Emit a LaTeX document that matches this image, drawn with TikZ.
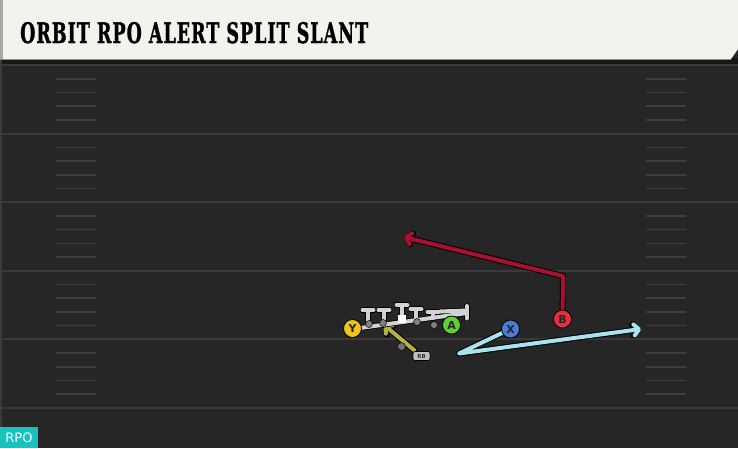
\documentclass[tikz,border=0pt]{standalone}
\usepackage{fontspec}
\usepackage{graphicx}
\usetikzlibrary{arrows.meta}
\setmainfont{DejaVu Sans}
\newfontfamily\titlefont{DejaVu Serif}[BoldFeatures={FakeBold=1.6,LetterSpace=6}]
\definecolor{field}{HTML}{262626}
\definecolor{band}{HTML}{161616}
\definecolor{yard}{HTML}{3A3A3A}
\definecolor{hashc}{HTML}{3E3E3E}
\definecolor{cream}{HTML}{F4F2EC}
\definecolor{ycol}{HTML}{F2C21B}
\definecolor{acol}{HTML}{62CF33}
\definecolor{xcol}{HTML}{4A7DD6}
\definecolor{bcol}{HTML}{E0303E}
\definecolor{redroute}{HTML}{A8102E}
\definecolor{blueroute}{HTML}{A8E3EF}
\definecolor{oliveroute}{HTML}{B7B23A}
\definecolor{linec}{HTML}{D2D2D2}
\definecolor{rpoteal}{HTML}{17C3BE}
\pgfdeclarelayer{back}
\pgfdeclarelayer{mid}
\pgfsetlayers{back,mid,main}
\tikzset{
  player/.style={circle, draw=black, line width=0.8pt, minimum size=18pt, inner sep=0pt,
     font=\fontsize{11}{11}\selectfont\bfseries, text=black!85},
  routeout/.style={draw=black, line width=6pt, line join=round, line cap=round},
  routein/.style={line width=4pt, line join=round, line cap=round},
  tip/.style={-{Straight Barb[length=5pt,width=11pt,line cap=round,line join=round]}},
  yardline/.style={yard, line width=2pt},
  hashmark/.style={hashc, line width=1.6pt},
  olout/.style={black, line width=5.6pt, line cap=round},
  olin/.style={linec, line width=4pt, line cap=round},
}
\begin{document}
\begin{tikzpicture}[x=1pt,y=-1pt]
\useasboundingbox (0,0) rectangle (738,448);
\begin{pgfonlayer}{back}
\fill[field] (0,0) rectangle (738,448);
\fill[band] (0,58) rectangle (738,64.5);
\fill[yard] (0,60) rectangle (2,448);
% yard lines
\foreach \k in {0,...,5} {
  \draw[yardline] (0,{65+68.6*\k}) -- (738,{65+68.6*\k});
}
% hash marks
\foreach \k in {0,...,4} {
  \foreach \j in {1,...,4} {
    \draw[hashmark] (56,{65+68.6*\k+13.72*\j}) -- (96,{65+68.6*\k+13.72*\j});
    \draw[hashmark] (646,{65+68.6*\k+13.72*\j}) -- (686,{65+68.6*\k+13.72*\j});
  }
}
% header
\fill[cream] (0,0) -- (738,0) -- (738,49) -- (731,59) -- (0,59) -- cycle;
\fill[black!35] (0,0) rectangle (2.5,59);
\draw[black!45, line width=0.8pt] (0,59) -- (731,59);
\end{pgfonlayer}

\node[anchor=base west, inner sep=0pt] (title) at (20,43)
  {\resizebox{348pt}{21pt}{\titlefont\bfseries ORBIT RPO ALERT SPLIT SLANT}};

% offensive line
\begin{scope}
\foreach \pass in {olout,olin} {
  \draw[\pass] (360,328) -- (467,313);
  \draw[\pass] (368,327) -- (368,310) (362.5,310) -- (373.5,310);
  \draw[\pass] (384,324.6) -- (384,310) (378.5,310) -- (389.5,310);
  \draw[\pass] (402,322) -- (402,305) (396.5,305) -- (407.5,305);
  \draw[\pass] (416,320) -- (416,309) (410.5,309) -- (421.5,309);
  \draw[\pass] (433,318) -- (433,312) (427.5,312) -- (438.5,312);
  \draw[\pass] (440,311.5) -- (467,310.5);
  \draw[\pass] (467,306) -- (467,318.5);
}
\fill[black!50, draw=black, line width=0.5pt] (369,324) circle (3.5);
\fill[black!50, draw=black, line width=0.5pt] (383,323) circle (3.5);
\fill[black!50, draw=black, line width=0.5pt] (417,322) circle (3.5);
\fill[black!50, draw=black, line width=0.5pt] (434,325) circle (3.5);
\fill[white] (398,315) rectangle (405.5,322.5);
\end{scope}

% QB dot and RB
\fill[black!55, draw=black, line width=0.5pt] (401.5,346.5) circle (4);
\node[draw=black, fill=black!25, rounded corners=2pt, line width=0.6pt, minimum width=17pt,
      minimum height=9pt, inner sep=0pt, font=\fontsize{5.5}{5.5}\selectfont\bfseries, text=black!80]
      (RB) at (421.5,356) {RB};

% players
\node[player, fill=ycol] (Y) at (352.5,328.5) {Y};
\node[player, fill=acol] (A) at (451.5,325) {A};
\node[player, fill=xcol] (X) at (510.5,329) {X};
\node[player, fill=bcol] (B) at (562.5,319) {B};

% route points
\coordinate (bturn) at (563,276);
\coordinate (btip) at (404,237);
\coordinate (xturn) at (459,353.5);
\coordinate (xtip) at (641,329);
\coordinate (rbstart) at (414,350);
\coordinate (rbtip) at (384,325);

\begin{pgfonlayer}{mid}
\draw[routeout, tip] (B.center) -- (bturn) -- (btip);
\draw[routein, tip, draw=redroute] (B.center) -- (bturn) -- (btip);
\draw[routeout, tip] (X.center) -- (xturn) -- (xtip);
\draw[routein, tip, draw=blueroute] (X.center) -- (xturn) -- (xtip);
\draw[routeout, tip] (rbstart) -- (rbtip);
\draw[routein, tip, draw=oliveroute] (rbstart) -- (rbtip);
\end{pgfonlayer}

% RPO tag
\fill[rpoteal] (0,427) rectangle (38,448);
\node[text=white, font=\fontsize{13}{13}\selectfont, inner sep=0pt] (rpo) at (19,438) {RPO};
\end{tikzpicture}
\end{document}
